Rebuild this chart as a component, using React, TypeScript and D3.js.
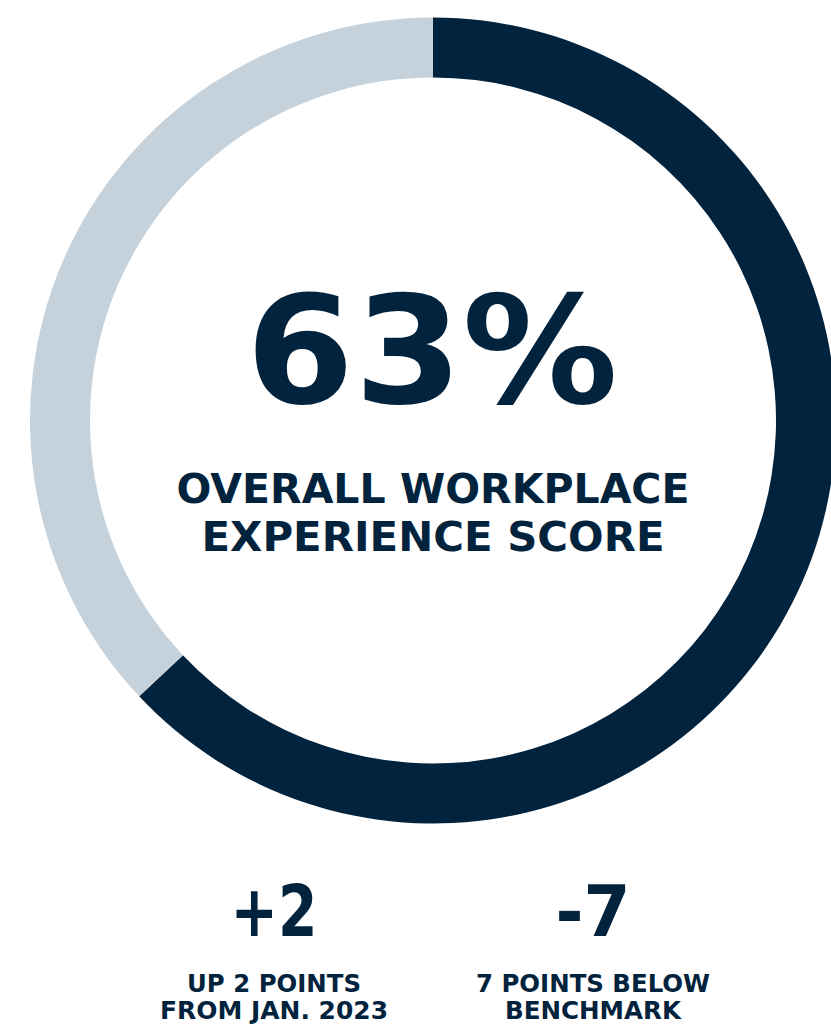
import React from "react";
import * as d3 from "d3";

const segmentLabels = ["Score", "Remainder"];
const segmentValues = [63, 37];
const segmentColors = ["#02233D", "#C5D2DC"];

const headline = "63%";
const titleLines = ["OVERALL WORKPLACE", "EXPERIENCE SCORE"];

const statValues = ["+2", "-7"];
const statCaptions = [
  ["UP 2 POINTS", "FROM JAN. 2023"],
  ["7 POINTS BELOW", "BENCHMARK"],
];

const W = 831;
const H = 1024;
const CX = 433;
const CY = 420.5;
const R_OUT = 403;
const R_IN = 343;
const INK = "#02233D";
const FONT = "'DejaVu Sans', 'Liberation Sans', Arial, sans-serif";

const statX = [274, 593];
const statValueWidths = [87, 75];
const captionWidths = [
  [174, 228],
  [234, 176],
];
const titleWidths = [513, 463];

export default function App() {
  const pie = d3
    .pie<number>()
    .sort(null)
    .value((d) => d);
  const arcs = pie(segmentValues);
  const arcGen = d3.arc<d3.PieArcDatum<number>>().innerRadius(R_IN).outerRadius(R_OUT);

  return (
    <svg
      width={W}
      height={H}
      style={{ position: "absolute", left: 0, top: 0, display: "block", background: "#fff" }}
    >
      <g transform={`translate(${CX},${CY})`}>
        {arcs.map((a, i) => (
          <path key={segmentLabels[i]} d={arcGen(a) || ""} fill={segmentColors[i]} />
        ))}
      </g>
      <text
        x={432}
        y={403}
        textAnchor="middle"
        fontFamily={FONT}
        fontWeight={700}
        fontSize={150}
        fill={INK}
        textLength={372}
        lengthAdjust="spacingAndGlyphs"
      >
        {headline}
      </text>
      {titleLines.map((t, i) => (
        <text
          key={t}
          x={433}
          y={503 + i * 48}
          textAnchor="middle"
          fontFamily={FONT}
          fontWeight={700}
          fontSize={40}
          fill={INK}
          textLength={titleWidths[i]}
          lengthAdjust="spacingAndGlyphs"
        >
          {t}
        </text>
      ))}
      {statValues.map((v, i) => (
        <g key={v}>
          <text
            x={statX[i]}
            y={936}
            textAnchor="middle"
            fontFamily={FONT}
            fontWeight={700}
            fontSize={71}
            fill={INK}
            textLength={statValueWidths[i]}
            lengthAdjust="spacingAndGlyphs"
          >
            {v}
          </text>
          {statCaptions[i].map((c, j) => (
            <text
              key={c}
              x={statX[i]}
              y={992 + j * 27}
              textAnchor="middle"
              fontFamily={FONT}
              fontWeight={700}
              fontSize={25}
              fill={INK}
              textLength={captionWidths[i][j]}
              lengthAdjust="spacingAndGlyphs"
            >
              {c}
            </text>
          ))}
        </g>
      ))}
    </svg>
  );
}
